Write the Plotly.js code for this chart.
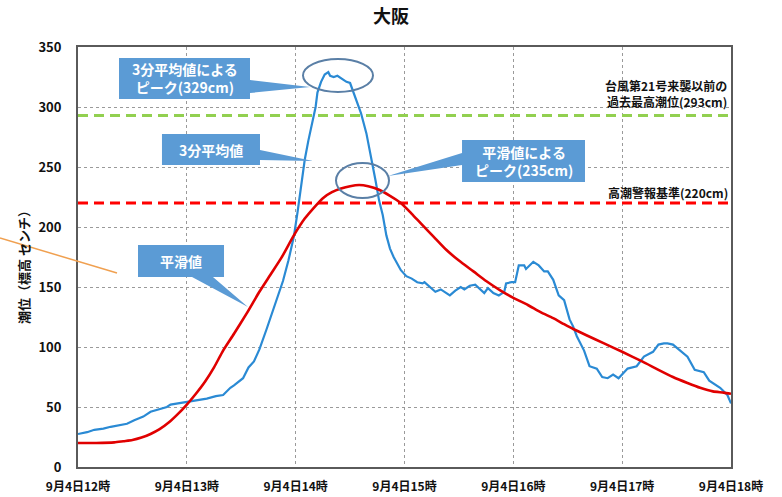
<!DOCTYPE html>
<html><head><meta charset="utf-8">
<script src="https://cdn.plot.ly/plotly-3.0.1.min.js"></script>
<style>html,body{margin:0;padding:0;background:#fff}#chart{width:782px;height:497px}</style>
</head><body><div id="chart"></div>
<script>
// 3分平均値 (minutes after 12:00, cm)
const avgMinutes = [0,5,9,14,18,22,27,31,36,40,44,49,51,55,60,66,71,76,80,84,86,91,94,97,100,104,107,110,113,116,119,121,123,125,127,129,131,132,134,136,138,139,141,143,144,146,148,150,153,156,159,162,164,166,168,170,172,174,178,181,184,187,190,191,194,197,200,202,205,208,211,213,216,219,222,224,226,229,232,235,236,239,241,243,246,247,251,254,257,259,262,265,268,271,273,275,279,282,286,289,292,295,298,303,308,312,317,320,323,325,328,332,336,340,345,348,354,358,360];
const avgValues  = [27.5,29,31,32,33.5,34.5,36,39,42,46,48,50,52,53,54,56,57,59,60,66,68,74,83,88,98,115,128,142,155,172,192,212,236,256,272,287,300,312,321,327,329,326,325,326,325,323,321,320,308,295,278,256,239,222,210,193,182,175,164,159,157,154,153,154,150,146,148,146,143,147,150,148,151,152,148,145,149,145,143,146,153,154,154,168,168,165,171,168,163,163,156,143,139,123,117,109,97,84,82,75,74,77,74,82,84,92,96,102,103,103,102,97,92,81,79,72,66,60,53];
// 平滑値
const smoothMinutes = [0,10,20,25,30,35,40,45,50,55,60,65,70,75,80,86,93,100,106,112,119,125,130,135,140,145,150,155,160,166,172,178,184,189,196,203,210,218,225,233,240,248,255,262,268,273,280,290,300,311,320,328,336,343,350,356,360];
const smoothValues  = [20,20,20.5,21.5,22.5,24.5,27.5,31.5,37,44,52,61,71,83,97,111,128,146,160,174,193,207,216,224,229,232,234,235,234,231,226,220,211,203,192,181,172,163,155,147,141,135,129,124,119,115,110,103,96,88,81,75,70,66,63,62,61];
// reference levels
const pastMaxLevel = 293;
const warningLevel = 220;
const refX = [0, 360];
// ticks
const xTickVals = [0,60,120,180,240,300,360];
const xTickText = ['9月4日12時','9月4日13時','9月4日14時','9月4日15時','9月4日16時','9月4日17時','9月4日18時'];
const yTickVals = [0,50,100,150,200,250,300,350];

const FONT = '"Noto Sans CJK JP", "Noto Sans", sans-serif';
const L = 78, R = 731, T = 47, B = 467;
const px = x => (x - L) / (R - L);
const py = y => (B - y) / (B - T);
const pt = (x, y) => px(x).toFixed(4) + ',' + py(y).toFixed(4);
const pathOf = pts => 'M' + pts.map(p => pt(p[0], p[1])).join(' L') + ' Z';

const calloutFill = '#5B9BD5';
const ellipseLine = '#5A7FA6';

const traces = [
  {x: refX, y: [pastMaxLevel, pastMaxLevel], mode: 'lines', line: {color: '#92D050', width: 3, dash: '10px,6px'}, hoverinfo: 'skip'},
  {x: refX, y: [warningLevel, warningLevel], mode: 'lines', line: {color: '#FF0000', width: 3, dash: '10px,6px'}, hoverinfo: 'skip'},
  {x: avgMinutes, y: avgValues, mode: 'lines', line: {color: '#2A8AD4', width: 2.2}},
  {x: smoothMinutes, y: smoothValues, mode: 'lines', line: {color: '#E00000', width: 2.6, shape: 'spline', smoothing: 0.6}}
];

const shapes = [
  {type: 'path', xref: 'paper', yref: 'paper', layer: 'above', fillcolor: calloutFill, line: {width: 0},
   path: pathOf([[119,58],[250,58],[250,80],[310,87],[250,93],[250,99],[119,99]])},
  {type: 'path', xref: 'paper', yref: 'paper', layer: 'above', fillcolor: calloutFill, line: {width: 0},
   path: pathOf([[162,134],[260,134],[260,150],[313,161],[260,160],[260,165],[162,165]])},
  {type: 'path', xref: 'paper', yref: 'paper', layer: 'above', fillcolor: calloutFill, line: {width: 0},
   path: pathOf([[138,245],[224,245],[224,277],[213,277],[248,307],[192,277],[138,277]])},
  {type: 'path', xref: 'paper', yref: 'paper', layer: 'above', fillcolor: calloutFill, line: {width: 0},
   path: pathOf([[462,140],[585,140],[585,182],[462,182],[462,165],[388,176],[462,153]])},
  {type: 'circle', xref: 'paper', yref: 'paper', layer: 'above', line: {color: ellipseLine, width: 2},
   x0: px(303), x1: px(373), y0: py(92), y1: py(59)},
  {type: 'circle', xref: 'paper', yref: 'paper', layer: 'above', line: {color: ellipseLine, width: 2},
   x0: px(336), x1: px(389), y0: py(198), y1: py(163)},
  {type: 'line', xref: 'paper', yref: 'paper', layer: 'above', line: {color: '#F0A050', width: 1.5},
   x0: px(0), y0: py(238), x1: px(117), y1: py(273)}
];

const white = {family: FONT, size: 14, color: '#ffffff', weight: 'bold'};
const dark = {family: FONT, size: 12, color: '#111', weight: 'bold'};
const annotations = [
  {xref: 'paper', yref: 'paper', x: px(184.5), y: py(78.5), text: '3分平均値による<br>ピーク(329cm)', showarrow: false, font: white, xanchor: 'center', yanchor: 'middle'},
  {xref: 'paper', yref: 'paper', x: px(211), y: py(150), text: '3分平均値', showarrow: false, font: white, xanchor: 'center', yanchor: 'middle'},
  {xref: 'paper', yref: 'paper', x: px(181), y: py(261), text: '平滑値', showarrow: false, font: white, xanchor: 'center', yanchor: 'middle'},
  {xref: 'paper', yref: 'paper', x: px(523.5), y: py(161), text: '平滑値による<br>ピーク(235cm)', showarrow: false, font: white, xanchor: 'center', yanchor: 'middle'},
  {xref: 'paper', yref: 'paper', x: px(729), y: py(85), text: '台風第21号来襲以前の', showarrow: false, font: dark, xanchor: 'right', yanchor: 'middle'},
  {xref: 'paper', yref: 'paper', x: px(729), y: py(101), text: '過去最高潮位(293cm)', showarrow: false, font: dark, xanchor: 'right', yanchor: 'middle'},
  {xref: 'paper', yref: 'paper', x: px(730), y: py(192), text: '高潮警報基準(220cm)', showarrow: false, font: dark, xanchor: 'right', yanchor: 'middle'},
  {xref: 'paper', yref: 'paper', x: px(23), y: py(264), text: '潮位（標高 センチ）', showarrow: false, textangle: -90,
   font: {family: FONT, size: 13, color: '#111', weight: 'bold'}, xanchor: 'center', yanchor: 'middle'}
];

const layout = {
  width: 782, height: 497,
  margin: {l: L, r: 782 - R, t: T, b: 497 - B, pad: 0},
  paper_bgcolor: '#ffffff', plot_bgcolor: '#ffffff',
  showlegend: false,
  title: {text: '大阪', x: 0.5, xref: 'container', xanchor: 'center', y: 1 - 17/497, yref: 'container', yanchor: 'middle',
          font: {family: FONT, size: 18, color: '#111', weight: 'bold'}},
  xaxis: {range: [0, 360], tickvals: xTickVals, ticktext: xTickText, showgrid: true, gridcolor: '#9a9a9a', griddash: 'dot', gridwidth: 1,
          showline: true, mirror: true, linecolor: '#5a5a5a', linewidth: 2, ticks: '', zeroline: false,
          tickfont: {family: FONT, size: 12, color: '#111', weight: 'bold'}, ticklabelstandoff: 8},
  yaxis: {range: [0, 350], tickvals: yTickVals, showgrid: true, gridcolor: '#9a9a9a', griddash: 'dot', gridwidth: 1,
          showline: true, mirror: true, linecolor: '#5a5a5a', linewidth: 2, ticks: '', zeroline: false,
          tickfont: {family: FONT, size: 13, color: '#111', weight: 'bold'}, ticklabelstandoff: 12},
  shapes: shapes,
  annotations: annotations
};

Plotly.newPlot('chart', traces, layout, {staticPlot: true, displayModeBar: false});
</script>
</body></html>
